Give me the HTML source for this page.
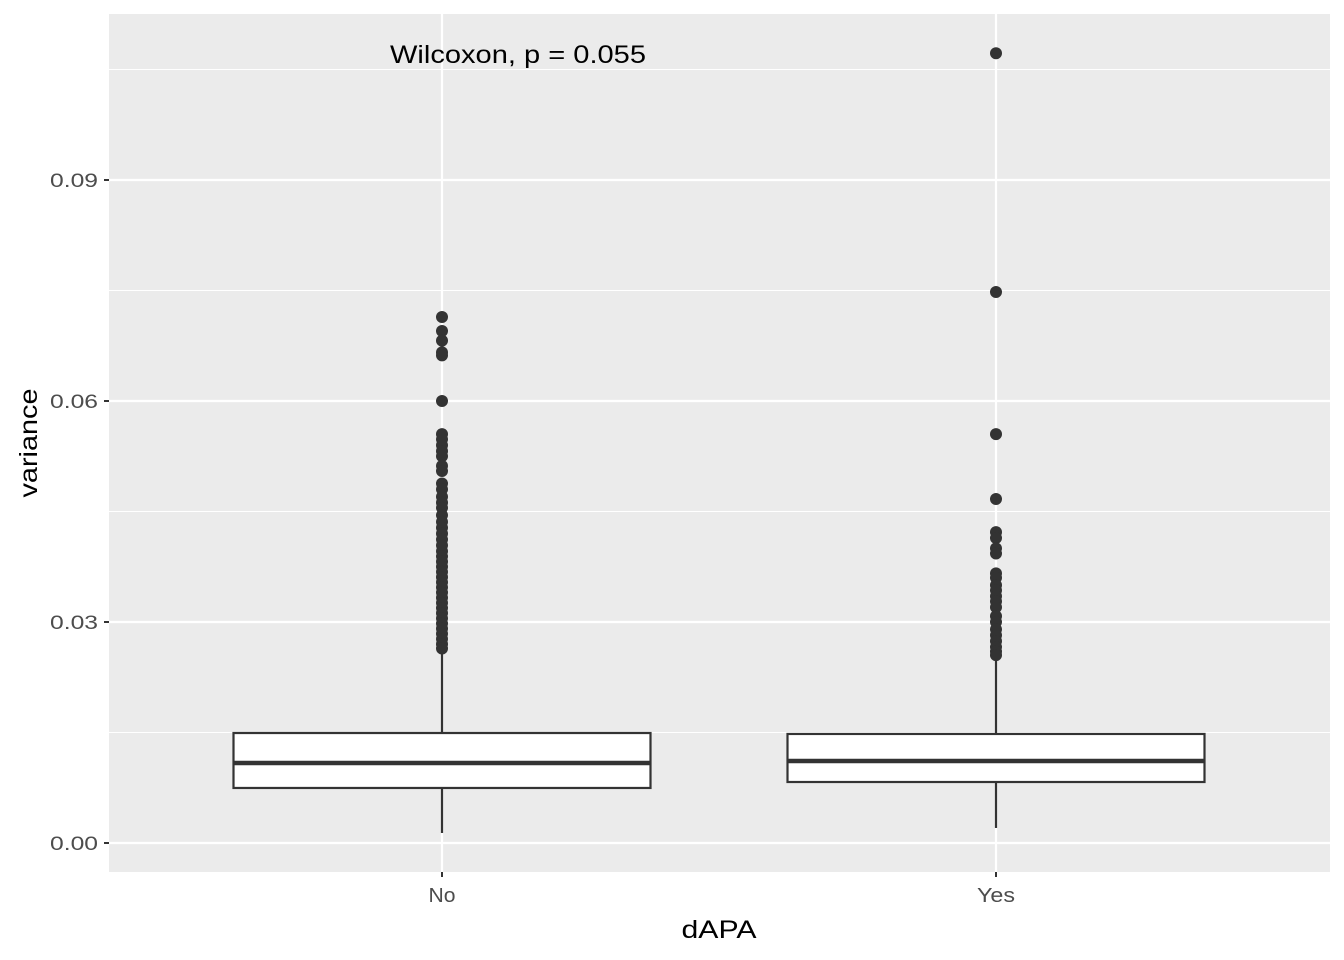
<!DOCTYPE html>
<html><head><meta charset="utf-8">
<style>
html,body{margin:0;padding:0;background:#fff;}
svg{display:block;font-family:"Liberation Sans",Arial,sans-serif;}
</style></head>
<body>
<svg id="chart" width="1344" height="960" viewBox="0 0 1344 960"></svg>
<script>
const categories = ["No", "Yes"];
const yTicks = [0.00, 0.03, 0.06, 0.09];
const yTickLabels = ["0.00", "0.03", "0.06", "0.09"];
const lowerWhisker = [0.00136, 0.00204];
const q1 = [0.00747, 0.00828];
const median = [0.01086, 0.01113];
const q3 = [0.01493, 0.0148];
const upperWhisker = [0.0262, 0.0256];
const outliersNo = [0.0714,0.0695,0.0682,0.0666,0.0662,0.0600,0.0555,0.0548,0.0540,0.0532,0.0525,0.0512,0.0505,0.0488,0.0480,0.0470,0.0462,0.0455,0.0445,0.0436,0.0428,0.0420,0.0412,0.0404,0.0396,0.0389,0.0382,0.0375,0.0368,0.0361,0.0354,0.0347,0.0340,0.0333,0.0326,0.0319,0.0312,0.0305,0.0298,0.0291,0.0284,0.0277,0.0270,0.0264];
const outliersYes = [0.1072,0.0748,0.0555,0.0467,0.0422,0.0414,0.0400,0.0393,0.0366,0.0360,0.0350,0.0343,0.0335,0.0328,0.0320,0.0308,0.0300,0.0290,0.0282,0.0274,0.0266,0.0260,0.0255];
const annotation = "Wilcoxon, p = 0.055";

const NS="http://www.w3.org/2000/svg";
const svg=document.getElementById("chart");
const P={l:109,r:1330,t:14,b:872};
const y=v=>843-v*(221/0.03);
const x=i=>442+i*554;
const boxHalf=208.5;
function el(tag,attrs,parent){const e=document.createElementNS(NS,tag);for(const k in attrs)e.setAttribute(k,attrs[k]);(parent||svg).appendChild(e);return e;}

const panel=el("rect",{x:P.l,y:P.t,width:P.r-P.l,height:P.b-P.t,fill:"#EBEBEB"});


for(let i=0;i<yTicks.length;i++){
  const m=yTicks[i]+0.015;
  const g=el("line",{x1:P.l,x2:P.r,y1:y(m),y2:y(m),stroke:"#fff","stroke-width":1.1});
  
  
}
yTicks.forEach((t,i)=>{
  const g=el("line",{x1:P.l,x2:P.r,y1:y(t),y2:y(t),stroke:"#fff","stroke-width":2.2});
  
  
  const tk=el("line",{x1:P.l-5,x2:P.l,y1:y(t),y2:y(t),stroke:"#333","stroke-width":2});
  
  
  const tl=el("text",{x:P.l-11,y:y(t)+7,"text-anchor":"end","font-size":19,fill:"#4D4D4D",textLength:48,lengthAdjust:"spacingAndGlyphs"});
  tl.textContent=yTickLabels[i];
  
  
});
const xLabelW=[27,38];
categories.forEach((c,i)=>{
  const g=el("line",{x1:x(i),x2:x(i),y1:P.t,y2:P.b,stroke:"#fff","stroke-width":2.2});
  
  
  const tk=el("line",{x1:x(i),x2:x(i),y1:P.b,y2:P.b+5,stroke:"#333","stroke-width":2});
  
  
  const tl=el("text",{x:x(i),y:P.b+30,"text-anchor":"middle","font-size":20,fill:"#4D4D4D",textLength:xLabelW[i],lengthAdjust:"spacingAndGlyphs"});
  tl.textContent=c;
  
  
});
categories.forEach((c,i)=>{
  const g=el("g",{});
  
  
  el("line",{x1:x(i),x2:x(i),y1:y(lowerWhisker[i]),y2:y(q1[i]),stroke:"#333","stroke-width":2.2},g);
  el("line",{x1:x(i),x2:x(i),y1:y(q3[i]),y2:y(upperWhisker[i]),stroke:"#333","stroke-width":2.2},g);
  el("rect",{x:x(i)-boxHalf,y:y(q3[i]),width:boxHalf*2,height:y(q1[i])-y(q3[i]),fill:"#fff",stroke:"#333","stroke-width":2.2},g);
  el("line",{x1:x(i)-boxHalf,x2:x(i)+boxHalf,y1:y(median[i]),y2:y(median[i]),stroke:"#333","stroke-width":4.4},g);
  const outs=i===0?outliersNo:outliersYes;
  outs.forEach(v=>{
    const p=el("circle",{cx:x(i),cy:y(v),r:6,fill:"#333"},g);
    
    
  });
});
const ann=el("text",{x:518,y:63,"text-anchor":"middle","font-size":25,fill:"#000",textLength:256,lengthAdjust:"spacingAndGlyphs"});
ann.textContent=annotation;


const xt=el("text",{x:719,y:938,"text-anchor":"middle","font-size":25,fill:"#000",textLength:75,lengthAdjust:"spacingAndGlyphs"});
xt.textContent="dAPA";


const yt=el("text",{x:0,y:0,"text-anchor":"middle","font-size":25,fill:"#000",transform:"translate(37,443) rotate(-90)",textLength:109,lengthAdjust:"spacingAndGlyphs"});
yt.textContent="variance";


</script>
</body></html>
